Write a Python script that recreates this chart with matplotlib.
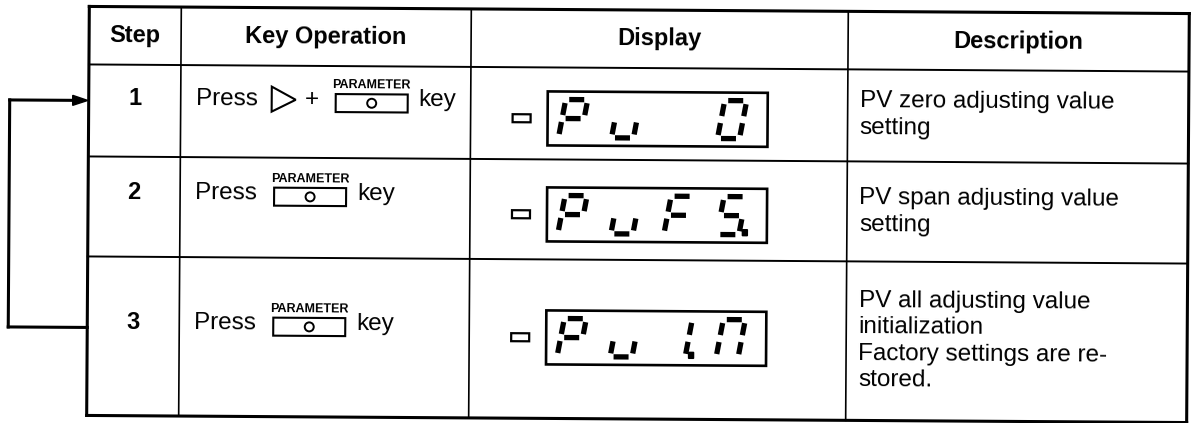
import matplotlib.pyplot as plt
from matplotlib.patches import Rectangle, Circle, Polygon
from matplotlib.transforms import Affine2D

# table content
headers = ['Step', 'Key Operation', 'Display', 'Description']
steps = ['1', '2', '3']
key_has_shift = [True, False, False]
display_chars = [['P', 'u', ' ', '0'], ['P', 'u', 'F', 'S'], ['P', 'u', '1', 'n']]
display_dots = [[], [3], [2]]
descriptions = ['PV zero adjusting value\nsetting',
                'PV span adjusting value\nsetting',
                'PV all adjusting value\ninitialization\nFactory settings are re-\nstored.']

# seven segment codes
segments = {'P': 'abefg', 'u': 'cde', '0': 'abcdef', 'F': 'aefg',
            'S': 'acdfg', '1': 'bc', 'n': 'abcef', ' ': ''}

# layout (image pixels, y downward)
col_x = [88, 180, 470, 847, 1188]
row_y = [10, 68, 160, 260, 419]
text_y = [102, 196, 326]
box_top = [92, 188, 311]
desc_y = [114, 211, 340]

fig = plt.figure(figsize=(11.91, 4.23), dpi=100)
ax = fig.add_axes([0, 0, 1, 1])
ax.set_xlim(0, 1191)
ax.set_ylim(423, 0)
ax.axis('off')

# the scan is slightly tilted
tilt = 0.37
tr = Affine2D().rotate_deg_around(638, 212, tilt) + ax.transData

font = 'Liberation Sans'


def line(xs, ys, lw=1.4):
    ax.plot(xs, ys, color='black', lw=lw, transform=tr, solid_capstyle='projecting')


def txt(x, y, s, **kw):
    kw.setdefault('fontsize', 17.5)
    ax.text(x, y, s, family=font, transform=tr, rotation=-tilt, color='black', **kw)


# grid
for i, y in enumerate(row_y):
    line([col_x[0], col_x[-1]], [y, y], lw=2.2 if i in (0, len(row_y) - 1) else 1.4)
for i, x in enumerate(col_x):
    line([x, x], [row_y[0], row_y[-1]], lw=2.2 if i in (0, len(col_x) - 1) else 1.2)

# header
for i, h in enumerate(headers):
    txt((col_x[i] + col_x[i + 1]) / 2, (row_y[0] + row_y[1]) / 2, h,
        ha='center', va='center', weight='bold', fontsize=17)


def key_icon(x, yc):
    ax.add_patch(Rectangle((x, yc - 6), 72, 18, fill=False, lw=1.5, ec='black', transform=tr))
    ax.add_patch(Circle((x + 36, yc + 3), 4.5, fill=False, lw=1.4, ec='black', transform=tr))
    txt(x + 36, yc - 15, 'PARAMETER', ha='center', va='center', fontsize=9, weight='bold')


def seven_seg(x0, ytop, ch, dot, w=22, h=38, sl=7, g=3.5):
    def p(u, v):
        return x0 + u + sl * (1 - v / h), ytop + v
    m = h / 2
    segs = {'a': [(g, 0), (w - g, 0)], 'b': [(w, g), (w, m - g)],
            'c': [(w, m + g), (w, h - g)], 'd': [(g, h), (w - g, h)],
            'e': [(0, m + g), (0, h - g)], 'f': [(0, g), (0, m - g)],
            'g': [(g, m), (w - g, m)]}
    for s in segments[ch]:
        (x1, y1), (x2, y2) = p(*segs[s][0]), p(*segs[s][1])
        ax.plot([x1, x2], [y1, y2], color='black', lw=3.8, transform=tr,
                solid_capstyle='butt')
    if dot:
        dx, dy = p(w + 6, h)
        ax.add_patch(Rectangle((dx - 2.5, dy - 5), 5, 6, color='black', transform=tr))


for r in range(3):
    yc = text_y[r]
    txt((col_x[0] + col_x[1]) / 2, yc, steps[r], ha='center', va='center',
        weight='bold', fontsize=17)

    # key operation
    txt(195, yc, 'Press', ha='left', va='center')
    if key_has_shift[r]:
        ax.add_patch(Polygon([(271, yc - 13), (271, yc + 12), (295, yc)], closed=True,
                             fill=False, lw=1.5, ec='black', transform=tr))
        txt(311, yc, '+', ha='center', va='center')
        kx = 335
    else:
        kx = 274
    key_icon(kx, yc)
    txt(kx + 83, yc, 'key', ha='left', va='center')

    # display
    bt = box_top[r]
    ax.add_patch(Rectangle((547, bt), 220, 54, fill=False, lw=1.9, ec='black', transform=tr))
    ax.add_patch(Rectangle((512, bt + 23), 18, 8, fill=False, lw=1.6, ec='black', transform=tr))
    for k, ch in enumerate(display_chars[r]):
        seven_seg(558 + 53 * k, bt + 8, ch, k in display_dots[r])

    # description
    txt(859, desc_y[r], descriptions[r], ha='left', va='center', linespacing=1.25)

# loop-back arrow
line([88, 9], [331, 331], lw=2.2)
line([9, 9], [331, 104], lw=2.2)
line([9, 72], [104, 104], lw=2.2)
ax.add_patch(Polygon([(72, 99), (72, 109), (87, 104)], closed=True, color='black', transform=tr))

fig.savefig('out.png', dpi=100)
